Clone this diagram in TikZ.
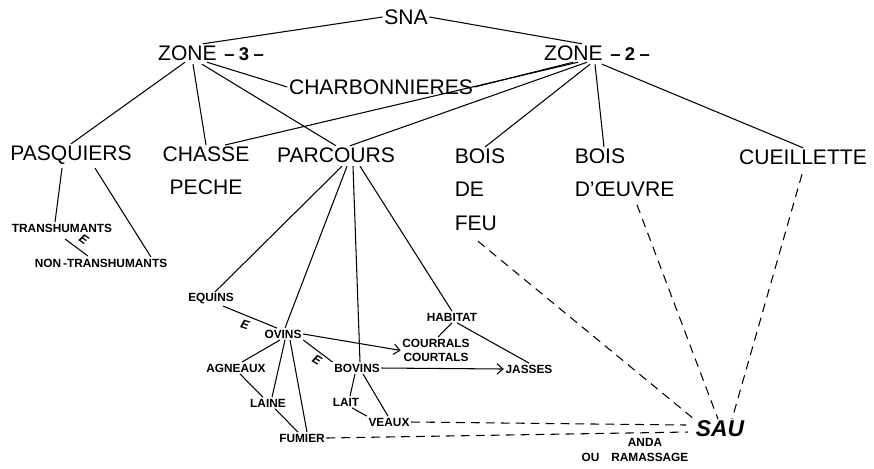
\documentclass[tikz,border=0pt]{standalone}
\usepackage{fontspec}
\setmainfont{Liberation Sans}
\usetikzlibrary{calc,arrows.meta}
\newcommand{\numzone}[1]{\hspace{1pt}{\fontsize{10.5}{11}\selectfont\bfseries –\hspace{2.5pt}#1\hspace{2.5pt}–}}
\begin{document}
\begin{tikzpicture}[x=0.02cm, y=-0.02cm, line width=0.6pt,
		every node/.style={inner sep=1pt, outer sep=0pt},
		gros/.style={font=\fontsize{12}{19}\selectfont},
		petit/.style={font=\fontsize{6.75}{8.5}\selectfont\bfseries},
		et/.style={font=\fontsize{7}{8}\selectfont\bfseries\itshape},
		tirets/.style={dash pattern=on 5pt off 3.5pt},
		fleche/.style={-{Straight Barb[length=3.5pt,width=6pt]}}]
		\useasboundingbox (0,0) rectangle (874,468);
		% haut
		\node[gros] (sna) at (406,17) {SNA};
		\node[gros] (zone3) at (211,53) {ZONE \numzone{3}};
		\node[gros] (zone2) at (597,53) {ZONE \numzone{2}};
		\node[gros] (charb) at (381,87) {CHARBONNIERES};
		\node[gros] (pasq) at (71,155) {PASQUIERS};
		\node[gros, align=center, anchor=north] (chasse) at (206,145) {CHASSE\\PECHE};
		\node[gros] (parcours) at (336,155) {PARCOURS};
		\node[gros, align=left, anchor=north west] (feu) at (453,147) {BOIS\\DE\\FEU};
		\node[gros, align=left, anchor=north west] (oeuvre) at (573,147) {BOIS\\D’ŒUVRE};
		\node[gros] (cueil) at (803,157) {CUEILLETTE};
		% bas
		\node[petit] (transh) at (62,228) {TRANSHUMANTS};
		\node[petit] (nontransh) at (101,263) {NON\,-TRANSHUMANTS};
		\node[petit] (equins) at (211,299) {EQUINS};
		\node[petit] (ovins) at (283,334) {OVINS};
		\node[petit] (agneaux) at (236,368) {AGNEAUX};
		\node[petit] (laine) at (268,403) {LAINE};
		\node[petit] (fumier) at (302,438) {FUMIER};
		\node[petit] (bovins) at (357,368) {BOVINS};
		\node[petit] (lait) at (346,402) {LAIT};
		\node[petit] (veaux) at (389,422) {VEAUX};
		\node[petit] (habitat) at (452,317) {HABITAT};
		\node[petit, align=center, anchor=north] (courrals) at (436,337) {COURRALS\\COURTALS};
		\node[petit] (jasses) at (529,369) {JASSES};
		\node[font=\fontsize{13}{13}\selectfont\bfseries\itshape] (sau) at (720,429) {SAU};
		\node[petit] (anda) at (645,442) {ANDA};
		\node[petit] (ramassage) at (635,457) {OU\quad RAMASSAGE};
		\node[et, rotate=-35] (e1) at (84,239) {E};
		\node[et, rotate=-18] (e2) at (245,325) {E};
		\node[et, rotate=-31] (e3) at (317,360) {E};
		% SNA et zones
		\draw (sna.west) -- ($(zone3.north)+(-8,0)$);
		\draw (sna.east) -- ($(zone2.north)+(-15,0)$);
		\draw ($(zone3.south)+(-4,0)$) -- (charb.west);
		\draw ($(zone3.south)+(-26,0)$) -- (pasq.north);
		\draw ($(zone3.south)+(-18,2)$) -- (chasse.north);
		\draw ($(zone3.south)+(-9,2)$) -- (parcours.north);
		\draw ($(chasse.north)+(19,0)$) -- ($(zone2.south)+(-19,0)$);
		\draw ($(parcours.north)+(14,0)$) -- ($(zone2.south)+(-10,0)$);
		\draw ($(zone2.south)+(-24,0)$) -- (charb.east);
		\draw ($(zone2.south)+(-7,2)$) -- ($(feu.north west)+(32,0)$);
		\draw ($(zone2.south)+(-2,2)$) -- ($(oeuvre.north west)+(31,0)$);
		\draw ($(zone2.south)+(5,2)$) -- (cueil.north);
		% pasquiers
		\draw ($(pasq.south)+(-9,2)$) -- ($(transh.north)+(-7,0)$);
		\draw ($(pasq.south)+(24,2)$) -- ($(nontransh.north)+(50,0)$);
		\draw ($(transh.south)+(3,5)$) -- ($(nontransh.north)+(-13,-1)$);
		% parcours
		\draw ($(parcours.south)+(6,2)$) -- ($(equins.north)+(4,0)$);
		\draw ($(parcours.south)+(11,2)$) -- ($(ovins.north)+(2,0)$);
		\draw ($(parcours.south)+(17,2)$) -- ($(bovins.north)+(3,0)$);
		\draw ($(parcours.south)+(24,2)$) -- (habitat.north);
		\draw ($(equins.south)+(12,0)$) -- ($(ovins.north)+(-6,0)$);
		\draw (ovins.south east) -- (bovins.north west);
		\draw[fleche] (ovins.east) -- (courrals.west);
		\draw ($(ovins.south)+(-3,0)$) -- ($(agneaux.north)+(6,0)$);
		\draw ($(ovins.south)+(2,0)$) -- ($(laine.north)+(4,0)$);
		\draw ($(ovins.south)+(7,0)$) -- ($(fumier.north)+(5,0)$);
		\draw ($(agneaux.south)+(4,0)$) -- ($(laine.north)+(-5,0)$);
		\draw ($(laine.south)+(7,0)$) -- ($(fumier.north)+(-4,0)$);
		\draw ($(bovins.south)+(-2,0)$) -- ($(lait.north)+(4,0)$);
		\draw ($(bovins.south)+(6,0)$) -- ($(veaux.north)+(-1,0)$);
		\draw ($(lait.south)+(6,0)$) -- (veaux.north west);
		\draw[fleche] (bovins.east) -- (jasses.west);
		\draw (habitat.south) -- ($(courrals.north)+(2,0)$);
		\draw ($(habitat.south)+(5,0)$) -- (jasses.north);
		% vers la SAU
		\draw[tirets] ($(feu.south west)+(25,9)$) -- (sau.north west);
		\draw[tirets] ($(oeuvre.south west)+(64,6)$) -- ($(sau.north)+(-2,0)$);
		\draw[tirets] ($(cueil.south)+(-1,8)$) -- ($(sau.north)+(12,0)$);
		\draw[tirets] (veaux.east) -- ($(sau.west)+(-8,-4)$);
		\draw[tirets] (fumier.east) -- ($(sau.west)+(-6,3)$);
	\end{tikzpicture}
\end{document}
